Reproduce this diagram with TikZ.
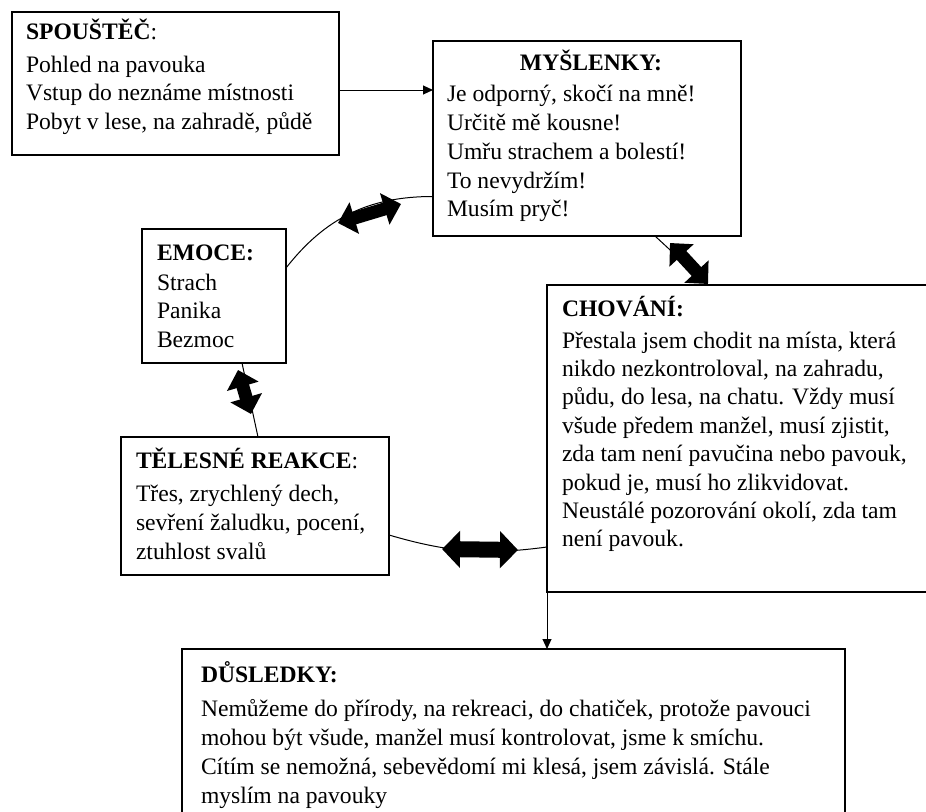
\documentclass[tikz,border=0pt]{standalone}
\usepackage{fontspec}
\setmainfont{Liberation Serif}
\usetikzlibrary{arrows.meta}
\begin{document}
\begin{tikzpicture}[x=1pt,y=-1pt,
  box/.style={draw, line width=1.2pt, rectangle, inner sep=0pt, outer sep=0pt, anchor=north west},
  txt/.style={inner sep=0pt, outer sep=0pt, anchor=north west, align=left, font=\fontsize{23.6}{28.8}\selectfont},
  hdr/.style={inner sep=0pt, outer sep=0pt, anchor=base, font=\fontsize{23.6}{28.8}\selectfont\bfseries},
  con/.style={line width=1pt},
  arrowtip/.style={-{Triangle[length=10pt,width=9pt]}},
  blk/.style={line width=13pt, arrows={Triangle[length=17pt,width=32pt]-Triangle[length=17pt,width=32pt]}},
  blkbig/.style={line width=16pt, arrows={Triangle[length=18pt,width=36pt]-Triangle[length=18pt,width=36pt]}},
]
\useasboundingbox (0,0) rectangle (926,811);

% boxes
\node[box, minimum width=327pt, minimum height=143pt] (spoustec) at (12,12) {};
\node[box, minimum width=308pt, minimum height=195pt] (myslenky) at (433,41) {};
\node[box, minimum width=380pt, minimum height=307pt] (chovani) at (547,285) {};
\node[box, minimum width=144pt, minimum height=134pt] (emoce) at (142,229) {};
\node[box, minimum width=268pt, minimum height=138pt] (telesne) at (121,437) {};
\node[box, minimum width=663pt, minimum height=200pt] (dusledky) at (182,649) {};

% texts
\node[txt] (t-spoustec) at (26,15) {\rule{0pt}{24pt}\textbf{SPOUŠTĚČ}:\\[4.2pt]
Pohled na pavouka\\
Vstup do neznáme místnosti\\
Pobyt v lese, na zahradě, půdě};

\node[hdr] (h-myslenky) at (591,70.7) {MYŠLENKY:};
\node[txt] (t-myslenky) at (447,77.7) {\rule{0pt}{24pt}Je odporný, skočí na mně!\\
Určitě mě kousne!\\
Umřu strachem a bolestí!\\
To nevydržím!\\
Musím pryč!};

\node[txt] (t-emoce) at (157,236) {\rule{0pt}{24pt}\textbf{EMOCE:}\\[1.2pt]
Strach\\
Panika\\
Bezmoc};

\node[txt, font=\fontsize{23.6}{28.4}\selectfont] (t-chovani) at (562,292.7) {\rule{0pt}{24pt}\textbf{CHOVÁNÍ:}\\[2.9pt]
Přestala jsem chodit na místa, která\\
nikdo nezkontroloval, na zahradu,\\
půdu, do lesa, na chatu. Vždy musí\\
všude předem manžel, musí zjistit,\\
zda tam není pavučina nebo pavouk,\\
pokud je, musí ho zlikvidovat.\\
Neustálé pozorování okolí, zda tam\\
není pavouk.};

\node[txt] (t-telesne) at (136,444) {\rule{0pt}{24pt}\textbf{TĚLESNÉ REAKCE}:\\[5pt]
Třes, zrychlený dech,\\
sevření žaludku, pocení,\\
ztuhlost svalů};

\node[txt] (t-dusledky) at (201,658) {\rule{0pt}{24pt}\textbf{DŮSLEDKY:}\\[6pt]
Nemůžeme do přírody, na rekreaci, do chatiček, protože pavouci\\
mohou být všude, manžel musí kontrolovat, jsme k smíchu.\\
Cítím se nemožná, sebevědomí mi klesá, jsem závislá. Stále\\
myslím na pavouky};

% connectors
\draw[con, arrowtip] ([yshift=-6.5pt]spoustec.east) -- ([yshift=-6.5pt]spoustec.east -| myslenky.west);
\draw[con] ([yshift=28pt]emoce.east) to[bend left=26] ([yshift=-58pt]myslenky.west);
\draw[con] ([xshift=28pt]emoce.south) -- ([xshift=3pt]telesne.north);
\draw[con] ([xshift=68pt]myslenky.south) -- ([xshift=161pt]chovani.north west);
\draw[con] ([yshift=-29pt]telesne.east) to[bend right=12] ([yshift=-108.5pt]chovani.west);
\draw[con, arrowtip] (chovani.south west) -- (chovani.south west |- dusledky.north);

% block double arrows
\coordinate (b1a) at (338,223);
\coordinate (b1b) at (401,204);
\coordinate (b2a) at (670,243);
\coordinate (b2b) at (708,284);
\coordinate (b3a) at (238,370);
\coordinate (b3b) at (251,414);
\coordinate (b4a) at (442,549);
\coordinate (b4b) at (518,550);
\draw[blk] (b1a) -- (b1b);
\draw[blk] (b2a) -- (b2b);
\draw[blk] (b3a) -- (b3b);
\draw[blkbig] (b4a) -- (b4b);
\end{tikzpicture}
\end{document}
